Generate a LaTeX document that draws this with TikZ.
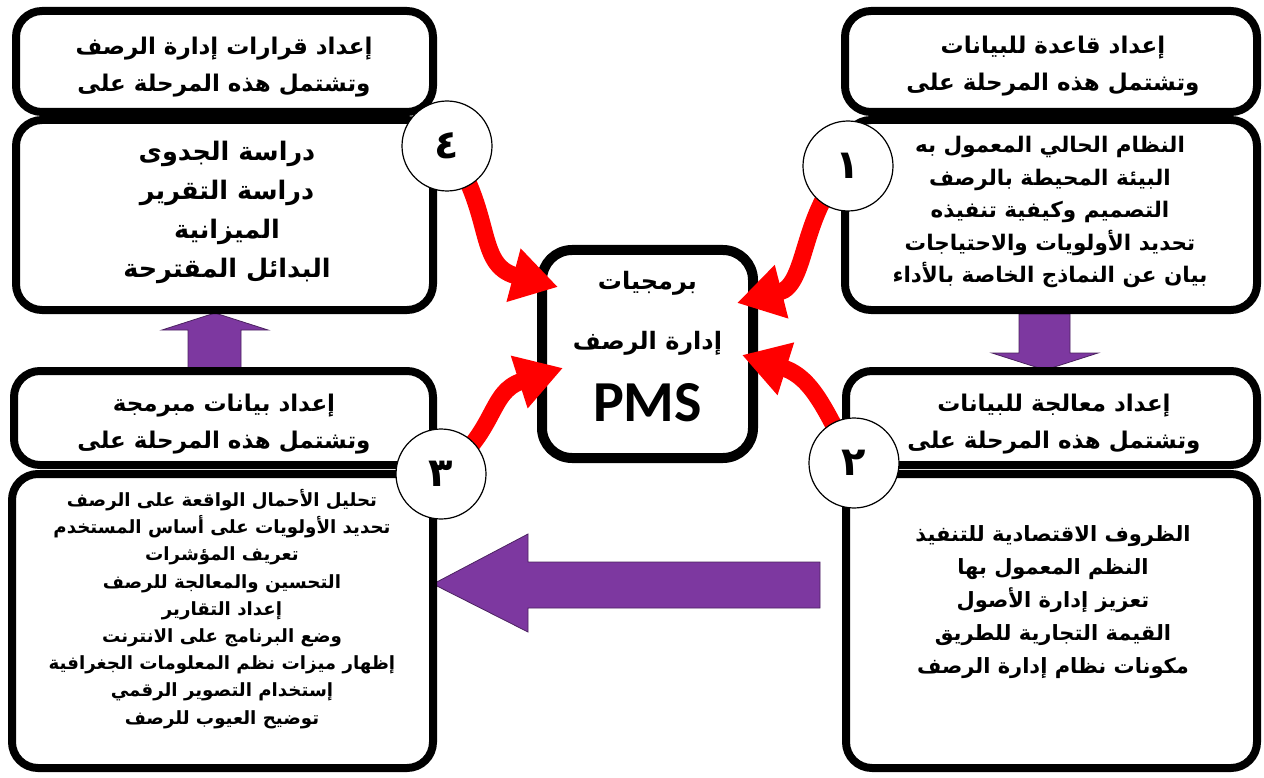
\documentclass[tikz,border=0pt]{standalone}
\usepackage{fontspec}
\usetikzlibrary{arrows.meta}
\TeXXeTstate=1
\newfontfamily\arabicfont[Script=Arabic,BoldFont={DejaVu Sans Bold}]{DejaVu Sans}
\newfontfamily\pmsfont[BoldFont={Carlito Bold}]{Carlito}
\newcommand\artext[1]{\beginR #1\endR}
\definecolor{stagepurple}{RGB}{125,56,160}

\tikzset{
  stagebox/.style={draw=black, line width=8pt, rounded corners=26pt, inner sep=0pt},
  centrebox/.style={draw=black, line width=10pt, rounded corners=30pt, inner sep=0pt,
    minimum width=211pt, minimum height=208pt},
  numcircle/.style={circle, draw=black, line width=1.2pt, fill=white, minimum size=90pt,
    inner sep=0pt, font=\arabicfont\bfseries\fontsize{40}{40}\selectfont},
  redarrow/.style={draw=red, line width=17pt, -{Triangle[length=46pt,width=52pt]}},
  purplearrow/.style={fill=stagepurple, draw=stagepurple!60!black, line width=0.8pt},
  headtext/.style={align=center, inner sep=0pt, font=\arabicfont\bfseries\fontsize{23}{37}\selectfont},
  bodytext/.style 2 args={align=center, inner sep=0pt, font=\arabicfont\bfseries\fontsize{#1}{#2}\selectfont},
}

\begin{document}
\begin{tikzpicture}[x=1pt,y=-1pt]
\useasboundingbox (0,0) rectangle (1264,778);
\fill[white] (0,0) rectangle (1264,778);

% block arrows between the stages
\filldraw[purplearrow] (188,369) -- (188,330) -- (162,330) -- (215,313) -- (268,330) -- (241,330) -- (241,369) -- cycle;
\filldraw[purplearrow] (1019,314) -- (1019,353) -- (992,353) -- (1045,370) -- (1098,353) -- (1070,353) -- (1070,314) -- cycle;
\filldraw[purplearrow] (820,562) -- (528,562) -- (528,534) -- (433,584) -- (528,632) -- (528,608) -- (820,608) -- cycle;

% stage boxes: heading and contents
\node[stagebox, minimum width=417pt, minimum height=101pt] (tlh) at (224.5,61.5) {};
\node[stagebox, minimum width=417pt, minimum height=190pt] (tlb) at (224.5,215) {};
\node[stagebox, minimum width=412pt, minimum height=101pt] (trh) at (1051,61.5) {};
\node[stagebox, minimum width=412pt, minimum height=190pt] (trb) at (1051,215) {};
\node[stagebox, minimum width=419pt, minimum height=94pt] (blh) at (223.5,418) {};
\node[stagebox, minimum width=421pt, minimum height=294pt] (blb) at (222.5,621) {};
\node[stagebox, minimum width=411pt, minimum height=94pt] (brh) at (1051.5,418) {};
\node[stagebox, minimum width=411pt, minimum height=294pt] (brb) at (1051.5,621) {};

% central box
\node[centrebox] (pms) at (647.5,354) {};
\node[headtext, font=\arabicfont\bfseries\fontsize{24}{60}\selectfont] (pmsar) at (647.5,313)
  {\artext{برمجيات}\\\artext{إدارة الرصف}};
\node[inner sep=0pt, font=\pmsfont\bfseries\fontsize{58}{58}\selectfont] (pmslat) at (647.5,403) {PMS};

% headings
\node[headtext] (tlht) at (224,67) {\artext{إعداد قرارات إدارة الرصف}\\\artext{وتشتمل هذه المرحلة على}};
\node[headtext] (trht) at (1053,66) {\artext{إعداد قاعدة للبيانات}\\\artext{وتشتمل هذه المرحلة على}};
\node[headtext] (blht) at (224,424) {\artext{إعداد بيانات مبرمجة}\\\artext{وتشتمل هذه المرحلة على}};
\node[headtext] (brht) at (1054,424) {\artext{إعداد معالجة للبيانات}\\\artext{وتشتمل هذه المرحلة على}};

% contents
\node[bodytext={25.5}{39}] (tlbt) at (227,212)
  {\artext{دراسة الجدوى}\\\artext{دراسة التقرير}\\\artext{الميزانية}\\\artext{البدائل المقترحة}};
\node[bodytext={21.5}{32.5}] (trbt) at (1050,212)
  {\artext{النظام الحالي المعمول به}\\\artext{البيئة المحيطة بالرصف}\\\artext{التصميم وكيفية تنفيذه}\\\artext{تحديد الأولويات والاحتياجات}\\\artext{بيان عن النماذج الخاصة بالأداء}};
\node[bodytext={18.2}{27.2}] (blbt) at (222,609)
  {\artext{تحليل الأحمال الواقعة على الرصف}\\\artext{تحديد الأولويات على أساس المستخدم}\\\artext{تعريف المؤشرات}\\\artext{التحسين والمعالجة للرصف}\\\artext{إعداد التقارير}\\\artext{وضع البرنامج على الانترنت}\\\artext{إظهار ميزات نظم المعلومات الجغرافية}\\\artext{إستخدام التصوير الرقمي}\\\artext{توضيح العيوب للرصف}};
\node[bodytext={21}{33}] (brbt) at (1053,602)
  {\artext{الظروف الاقتصادية للتنفيذ}\\\artext{النظم المعمول بها}\\\artext{تعزيز إدارة الأصول}\\\artext{القيمة التجارية للطريق}\\\artext{مكونات نظام إدارة الرصف}};

% circle centres and arrow tips
\coordinate (c4) at (447,146);
\coordinate (c1) at (848,166);
\coordinate (c3) at (441,474);
\coordinate (c2) at (854,463);
\coordinate (t4) at (558,287);
\coordinate (t1) at (737,303);
\coordinate (t3) at (563,368);
\coordinate (t2) at (742,355);

% curved arrows from each stage into the software box
\draw[redarrow] (c4) .. controls (495,212) and (475,265) .. (t4);
\draw[redarrow] (c1) .. controls (800,212) and (808,285) .. (t1);
\draw[redarrow] (c3) .. controls (498,432) and (488,392) .. (t3);
\draw[redarrow] (c2) .. controls (828,418) and (815,378) .. (t2);

\node[numcircle] (n4) at (c4) {٤};
\node[numcircle] (n1) at (c1) {١};
\node[numcircle] (n3) at (c3) {٣};
\node[numcircle] (n2) at (c2) {٢};
\end{tikzpicture}
\end{document}
